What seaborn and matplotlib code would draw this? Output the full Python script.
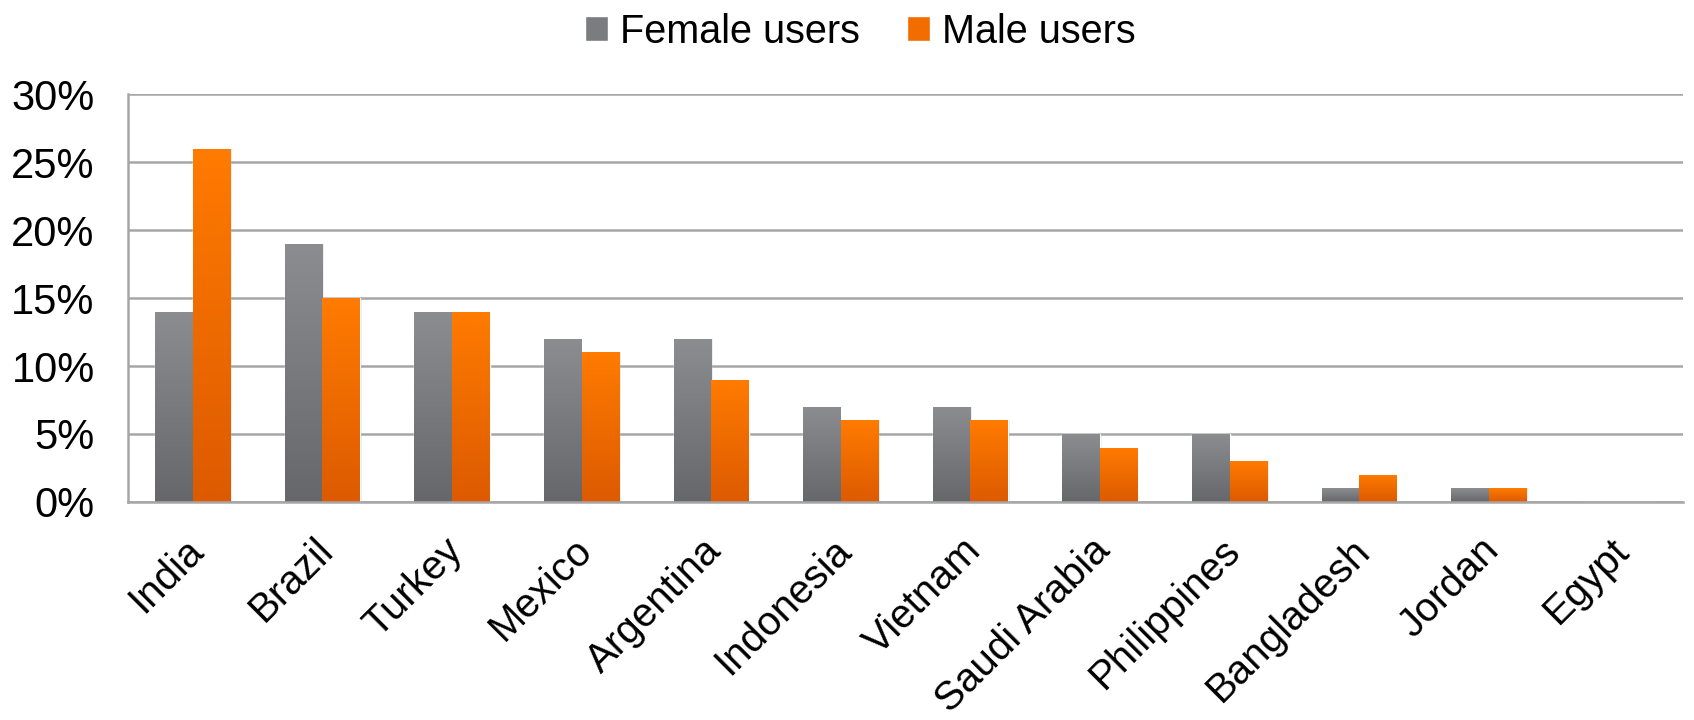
import seaborn as sns
import pandas as pd
import matplotlib.pyplot as plt
import numpy as np
from matplotlib.colors import LinearSegmentedColormap
from matplotlib.ticker import PercentFormatter
from matplotlib.transforms import ScaledTranslation

# data
countries = ['India', 'Brazil', 'Turkey', 'Mexico', 'Argentina', 'Indonesia',
             'Vietnam', 'Saudi Arabia', 'Philippines', 'Bangladesh', 'Jordan', 'Egypt']
female = [14, 19, 14, 12, 12, 7, 7, 5, 5, 1, 1, 0]
male = [26, 15, 14, 11, 9, 6, 6, 4, 3, 2, 1, 0]
series = ['Female users', 'Male users']

df = pd.DataFrame({
    'country': countries * 2,
    'share': female + male,
    'group': [series[0]] * len(countries) + [series[1]] * len(countries),
})

sns.set_style('white')
plt.rcParams['font.family'] = ['Liberation Sans', 'DejaVu Sans']
plt.rcParams['text.color'] = 'black'
plt.rcParams['xtick.color'] = 'black'
plt.rcParams['ytick.color'] = 'black'

top_col = {'Female users': '#8c8d91', 'Male users': '#ff7b00'}
bot_col = {'Female users': '#66676b', 'Male users': '#dd5a00'}
mid_col = {'Female users': '#7b7c80', 'Male users': '#f26c00'}

fig = plt.figure(figsize=(16.94, 7.2), dpi=100)
ax = fig.add_axes([0.0756, 0.303, 0.918, 0.566])

sns.barplot(data=df, x='country', y='share', hue='group', palette=mid_col,
            width=0.58, ax=ax, legend=True, saturation=1)

# vertical gradient fill on each bar
grad = np.linspace(0, 1, 256).reshape(-1, 1)
for cont, name in zip(ax.containers, series):
    cmap = LinearSegmentedColormap.from_list(name, [bot_col[name], top_col[name]])
    for p in cont.patches:
        h = p.get_height()
        if h <= 0:
            continue
        x0 = p.get_x()
        w = p.get_width()
        # soft shadow to the right
        ax.add_patch(plt.Rectangle((x0 + 0.012, 0), w, h, color='#000000',
                                   alpha=0.08, zorder=1.5, lw=0))
        p.set_zorder(2)
        img = ax.imshow(grad, cmap=cmap, origin='lower', aspect='auto',
                        extent=[x0, x0 + w, 0, h], zorder=2.5)
        img.set_clip_path(p)

ax.set_xlim(-0.5, len(countries) - 0.5)
ax.set_ylim(0, 30)
ax.set_yticks(range(0, 31, 5))
ax.yaxis.set_major_formatter(PercentFormatter(decimals=0))
ax.set_xlabel('')
ax.set_ylabel('')

ax.grid(axis='y', color='#a6a6a6', lw=1.8)
ax.set_axisbelow(True)
for s in ['top', 'right']:
    ax.spines[s].set_visible(False)
for s in ['left', 'bottom']:
    ax.spines[s].set_color('#a6a6a6')
    ax.spines[s].set_linewidth(1.8)

# category boundary ticks on x
ax.set_xticks(np.arange(len(countries)))
ax.set_xticks(np.arange(-0.5, len(countries)), minor=True)
ax.tick_params(axis='x', which='major', length=0, pad=21)
ax.tick_params(axis='x', which='minor', length=12, width=1.8, color='#a6a6a6')
ax.tick_params(axis='y', length=12, width=1.8, color='#a6a6a6', labelcolor='black',
               labelsize=30, pad=12)
ax.set_xticklabels(countries, rotation=45, ha='right', rotation_mode='anchor',
                   fontsize=29, color='black')
shift = ScaledTranslation(-9 / 100, 0, fig.dpi_scale_trans)
for lab in ax.get_xticklabels():
    lab.set_transform(lab.get_transform() + shift)

ax.legend(loc='center', bbox_to_anchor=(0.508, 0.956), bbox_transform=fig.transFigure,
          ncol=2, frameon=False, fontsize=28.5, handlelength=0.58, handleheight=0.58,
          handletextpad=0.3, columnspacing=1.2, borderaxespad=0)

fig.savefig('out.png', dpi=100)
